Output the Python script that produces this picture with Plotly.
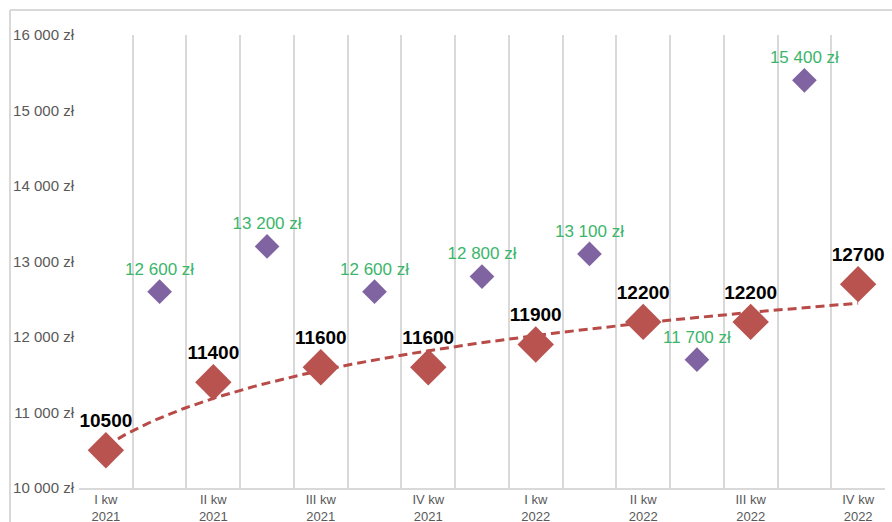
import numpy as np
import plotly.graph_objects as go

quarter_labels = ["I kw<br>2021", "II kw<br>2021", "III kw<br>2021", "IV kw<br>2021",
                  "I kw<br>2022", "II kw<br>2022", "III kw<br>2022", "IV kw<br>2022"]
red_values = [10500, 11400, 11600, 11600, 11900, 12200, 12200, 12700]
purple_values = [12600, 13200, 12600, 12800, 13100, 11700, 15400]

# positions: quarters at even slots, intermediate points at odd slots
red_x = [2 * i for i in range(len(red_values))]
purple_x = [2 * i + 1 for i in range(len(purple_values))]

# logarithmic trendline (Excel-style) fitted on the red series
n_idx = np.arange(1, len(red_values) + 1)
a, b = np.polyfit(np.log(n_idx), np.array(red_values, dtype=float), 1)
t_idx = np.linspace(1, len(red_values), 200)
trend_x = (t_idx - 1) * 2
trend_y = a * np.log(t_idx) + b

RED = "#B9534F"
PURPLE = "#8064A2"
GREEN = "#3BB56A"
GRID = "#D9D9D9"

fig = go.Figure()

fig.add_trace(go.Scatter(
    x=trend_x, y=trend_y, mode="lines",
    line=dict(color="#B84A47", width=3, dash="9px,5px"),
    hoverinfo="skip", showlegend=False))

fig.add_trace(go.Scatter(
    x=purple_x, y=purple_values, mode="markers+text",
    marker=dict(symbol="diamond", size=19, color=PURPLE),
    text=[f"{v:,}".replace(",", " ") + " zł" for v in purple_values],
    textposition="top center",
    textfont=dict(family="Liberation Sans, Arial", size=17, color=GREEN),
    showlegend=False))

fig.add_trace(go.Scatter(
    x=red_x, y=red_values, mode="markers+text",
    marker=dict(symbol="diamond", size=28, color=RED),
    text=[str(v) for v in red_values],
    textposition="top center",
    textfont=dict(family="Liberation Sans, Arial", size=19, color="#000000"),
    texttemplate="<b>%{text}</b>",
    showlegend=False))

fig.update_layout(
    width=892, height=522,
    margin=dict(l=79, r=7, t=35, b=34),
    paper_bgcolor="white", plot_bgcolor="white",
    separators=", ",
    font=dict(family="Liberation Sans, Arial", color="#595959"),
    shapes=[
        dict(type="line", xref="paper", yref="paper",
             x0=-69 / 806, x1=1.2, y0=1 + 25 / 453, y1=1 + 25 / 453,
             line=dict(color=GRID, width=2)),
        dict(type="line", xref="paper", yref="paper",
             x0=-69 / 806, x1=-69 / 806, y0=-0.2, y1=1 + 25 / 453,
             line=dict(color=GRID, width=2)),
    ],
)

fig.update_xaxes(
    range=[-0.5, 14.5],
    tickvals=red_x, ticktext=quarter_labels,
    showgrid=False, zeroline=False,
    showline=True, linecolor=GRID, linewidth=2,
    tickfont=dict(size=13, color="#595959"),
    ticks="", automargin=False, ticklabelstandoff=-2,
    minor=dict(tickvals=[i - 0.5 for i in range(16)], showgrid=True,
               gridcolor=GRID, gridwidth=2, ticks=""),
)
fig.update_yaxes(
    range=[10000, 16000], dtick=1000, tickformat=",d", ticksuffix=" zł",
    showgrid=False, zeroline=False, showline=False,
    tickfont=dict(size=15, color="#595959"),
    ticks="", automargin=False, ticklabelstandoff=4,
)

fig.write_html(
    "out.html",
    config={"displayModeBar": False},
    post_script="document.body.style.margin='0';document.body.style.overflow='hidden';",
)
